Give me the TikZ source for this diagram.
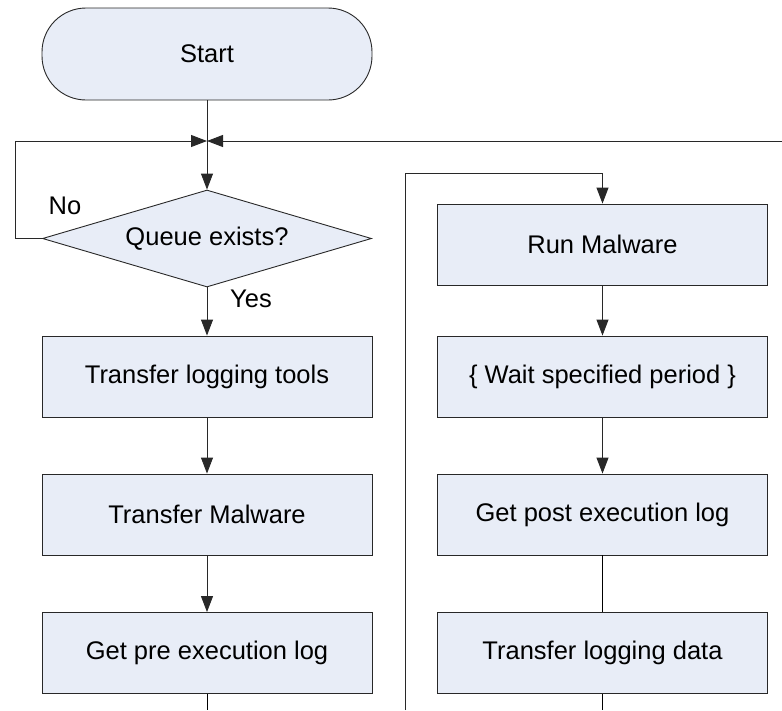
\documentclass[tikz,border=0pt]{standalone}
\usepackage{fontspec}
\setmainfont{Liberation Sans}
\usepackage{xcolor}
\usetikzlibrary{arrows.meta,positioning,shapes.geometric}
\definecolor{boxbg}{RGB}{232,237,247}
\definecolor{edge}{RGB}{40,40,40}
\tikzset{
  blk/.style={draw=edge,fill=boxbg,align=center,inner sep=2pt,
              font=\fontsize{25.5}{30}\selectfont,
              minimum width=330pt,minimum height=81pt},
  term/.style={blk,minimum height=92pt,rounded corners=44pt},
  dec/.style={blk,diamond,minimum width=329pt,minimum height=97pt,aspect=3.4},
  flow/.style={-{Triangle[length=16pt,width=12pt]},draw=edge},
  lbl/.style={font=\fontsize{25.5}{30}\selectfont,inner sep=1pt},
}

\begin{document}
\begin{tikzpicture}[x=1pt,y=-1pt,line width=0.9pt]
  \useasboundingbox (0,0) rectangle (782,710);

  % left column
  \node[term] (start) at (207,54)    {Start};
  \node[dec]  (queue) at (207,238.5) {Queue exists?};
  \node[blk]  (tools) at (207,376.5) {Transfer logging tools};
  \node[blk]  (mal)   at (207,514.5) {Transfer Malware};
  \node[blk]  (pre)   at (207,653)   {Get pre execution log};

  % right column
  \node[blk]  (run)   at (602.5,244.5) {Run Malware};
  \node[blk]  (wait)  at (602.5,376.5) {\{ Wait specified period \}};
  \node[blk]  (post)  at (602.5,514.5) {Get post execution log};
  \node[blk]  (data)  at (602.5,653)   {Transfer logging data};

  \coordinate (join)  at (207,141);
  \coordinate (loopl) at (15,141);
  \coordinate (back)  at (782,141);
  \coordinate (outl)  at (207,710);
  \coordinate (inr)   at (405,710);
  \coordinate (topr)  at (405,173);
  \coordinate (outr)  at (602.5,710);

  \draw[flow] (start) -- (queue);
  \draw[flow] (queue.west) -- (queue.west -| loopl) -- (loopl) -- (join);
  \draw[flow] (back) -- (join);
  \draw[flow] (queue) -- (tools);
  \draw[flow] (tools) -- (mal);
  \draw[flow] (mal) -- (pre);
  \draw (pre) -- (outl);

  \draw[flow] (inr) -- (topr) -| (run);
  \draw[flow] (run) -- (wait);
  \draw[flow] (wait) -- (post);
  \draw (post) -- (data);
  \draw (data) -- (outr);

  \node[lbl] (no)  at (65,206)  {No};
  \node[lbl] (yes) at (251,299) {Yes};
\end{tikzpicture}
\end{document}
